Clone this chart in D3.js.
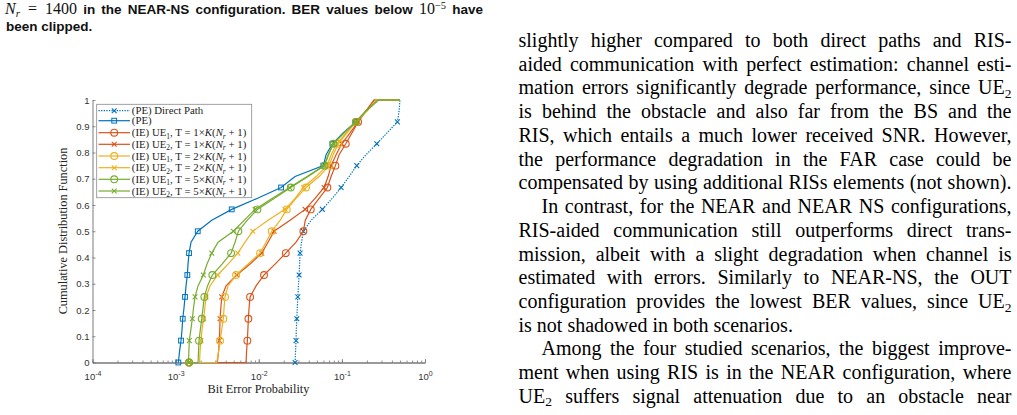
<!DOCTYPE html>
<html>
<head>
<meta charset="UTF-8">
<title>BER CDF</title>
<script src="https://d3js.org/d3.v7.min.js"></script>
<style>
  body { margin: 0; background: #fff; overflow: hidden; }
  svg { display: block; }
</style>
</head>
<body>
<script>
  // BER read at CDF = k/24, k = 0..24 (markers sit on every 2nd level)
  var berDirect = [0.02735, 0.0277, 0.0281, 0.0283, 0.0287, 0.0291, 0.0295, 0.0300, 0.0306, 0.0310, 0.0314, 0.0327, 0.0344,
                   0.0426, 0.0583, 0.0763, 0.0979, 0.1221, 0.1511, 0.1955, 0.2631, 0.350, 0.4656, 0.488, 0.5];
  var berPE = [1.078e-3, 1.114e-3, 1.161e-3, 1.194e-3, 1.217e-3, 1.262e-3, 1.297e-3, 1.334e-3, 1.383e-3, 1.41e-3, 1.45e-3, 1.532e-3, 1.845e-3,
               2.72e-3, 4.73e-3, 9.55e-3, 0.01855, 0.02735, 0.0599, 0.0646, 0.0769, 0.1034, 0.147, 0.1955, 0.2727];
  var berUe1T1 = [7.037e-3, 7.136e-3, 7.296e-3, 7.398e-3, 7.501e-3, 7.648e-3, 7.863e-3, 9.288e-3, 0.01158, 0.01571, 0.02113, 0.0281, 0.0344,
                  0.03628, 0.04225, 0.05318, 0.06696, 0.0742, 0.08358, 0.09262, 0.1114, 0.1327, 0.1567, 0.1955, 0.2441];
  var berUe2T1 = [3.177e-3, 3.284e-3, 3.357e-3, 3.394e-3, 3.423e-3, 3.50e-3, 3.588e-3, 4.041e-3, 5.438e-3, 7.863e-3, 0.01087, 0.01294, 0.01528,
                  0.02381, 0.03608, 0.0476, 0.0611, 0.0683, 0.0742, 0.0852, 0.0997, 0.1255, 0.1567, 0.1955, 0.2441];
  var berUe1T2 = [3.124e-3, 3.284e-3, 3.423e-3, 3.588e-3, 3.75e-3, 3.824e-3, 3.931e-3, 4.272e-3, 5.333e-3, 7.439e-3, 0.01037, 0.01224, 0.01434,
                  0.01805, 0.02173, 0.0281, 0.03709, 0.05318, 0.0702, 0.0784, 0.0909, 0.1155, 0.1482, 0.201, 0.258];
  var berUe2T2 = [1.939e-3, 1.966e-3, 2.021e-3, 2.078e-3, 2.167e-3, 2.246e-3, 2.322e-3, 2.594e-3, 3.212e-3, 4.272e-3, 5.591e-3, 6.845e-3, 8.475e-3,
                  0.01294, 0.02073, 0.02735, 0.0344, 0.04894, 0.0664, 0.0742, 0.0869, 0.1124, 0.1482, 0.201, 0.2653];
  var berUe1T5 = [1.86e-3, 1.886e-3, 1.912e-3, 1.983e-3, 2.061e-3, 2.137e-3, 2.215e-3, 2.42e-3, 2.765e-3, 3.618e-3, 4.643e-3, 5.187e-3, 5.684e-3,
                  7.236e-3, 9.63e-3, 0.01528, 0.02427, 0.0392, 0.0619, 0.0692, 0.0791, 0.1063, 0.147, 0.1955, 0.2727];
  var berUe2T5 = [1.43e-3, 1.442e-3, 1.462e-3, 1.524e-3, 1.589e-3, 1.642e-3, 1.712e-3, 1.86e-3, 2.155e-3, 2.387e-3, 2.72e-3, 3.24e-3, 4.95e-3,
                  6.66e-3, 9.03e-3, 0.01446, 0.02348, 0.03813, 0.0611, 0.0683, 0.0784, 0.1063, 0.147, 0.1955, 0.2727];

  // first / last sample shared by the IE curves
  var ieStart = 1.45e-3;
  var curveEnd = 0.5;

  var xTicks = [1e-4, 1e-3, 1e-2, 1e-1, 1];
  var yTicks = [0, 0.1, 0.2, 0.3, 0.4, 0.5, 0.6, 0.7, 0.8, 0.9, 1];

  var blue = "#0072BD", orange = "#D95319", yellow = "#EDB120", green = "#77AC30";

  var series = [
    { ber: berDirect, start: berDirect[0], color: blue, marker: "x", dotted: true, label: "direct" },
    { ber: berPE, start: berPE[0], color: blue, marker: "s", label: "pe" },
    { ber: berUe1T1, start: ieStart, color: orange, marker: "o", ue: 1, t: 1 },
    { ber: berUe2T1, start: ieStart, color: orange, marker: "x", ue: 2, t: 1 },
    { ber: berUe1T2, start: ieStart, color: yellow, marker: "o", ue: 1, t: 2 },
    { ber: berUe2T2, start: ieStart, color: yellow, marker: "x", ue: 2, t: 2 },
    { ber: berUe1T5, start: ieStart, color: green, marker: "o", ue: 1, t: 5 },
    { ber: berUe2T5, start: ieStart, color: green, marker: "x", ue: 2, t: 5 }
  ];

  var bodyLines = [
    ["slightly higher compared to both direct paths and RIS-", 0, true],
    ["aided communication with perfect estimation: channel esti-", 0, true],
    ["mation errors significantly degrade performance, since UE_2", 0, true],
    ["is behind the obstacle and also far from the BS and the", 0, true],
    ["RIS, which entails a much lower received SNR. However,", 0, true],
    ["the performance degradation in the FAR case could be", 0, true],
    ["compensated by using additional RISs elements (not shown).", 0, true],
    ["In contrast, for the NEAR and NEAR NS configurations,", 1, true],
    ["RIS-aided communication still outperforms direct trans-", 0, true],
    ["mission, albeit with a slight degradation when channel is", 0, true],
    ["estimated with errors. Similarly to NEAR-NS, the OUT", 0, true],
    ["configuration provides the lowest BER values, since UE_2", 0, true],
    ["is not shadowed in both scenarios.", 0, false],
    ["Among the four studied scenarios, the biggest improve-", 1, true],
    ["ment when using RIS is in the NEAR configuration, where", 0, true],
    ["UE_2 suffers signal attenuation due to an obstacle near", 0, true]
  ];

  var SANS = "'Liberation Sans', Arial, sans-serif";
  var SERIF = "'Liberation Serif', 'Times New Roman', serif";

  var svg = d3.select("body").append("svg").attr("width", 1017).attr("height", 415);

  // writes styled pieces into a text element; returns the number of spaces
  function writeSegs(text, segs) {
    var shift = 0, spaces = 0;
    segs.forEach(function (s) {
      var target = s.shift || 0;
      var ts = text.append("tspan").text(s.t).attr("dy", target - shift);
      if (s.size) ts.attr("font-size", s.size);
      if (s.family) ts.attr("font-family", s.family);
      if (s.italic) ts.attr("font-style", "italic");
      if (s.weight) ts.attr("font-weight", s.weight);
      shift = target;
      spaces += (s.t.match(/ /g) || []).length;
    });
    return spaces;
  }

  function justify(text, spaces, width) {
    var len = text.node().getComputedTextLength();
    if (spaces > 0) text.attr("word-spacing", (width - len) / spaces);
  }

  // ---- caption fragment at the top left
  var cap1 = svg.append("text").attr("x", 5).attr("y", 14)
    .attr("font-family", SANS).attr("font-weight", "bold").attr("font-size", 13.5).attr("fill", "#111");
  var capSpaces = writeSegs(cap1, [
    { t: "N", family: SERIF, italic: true, weight: "normal", size: 16 },
    { t: "r", family: SERIF, italic: true, weight: "normal", size: 11, shift: 2.5 },
    { t: "\u2002=\u20021400", family: SERIF, weight: "normal", size: 16 },
    { t: " in the NEAR-NS configuration. BER values below " },
    { t: "10", family: SERIF, weight: "normal", size: 16 },
    { t: "\u22125", family: SERIF, weight: "normal", size: 10.5, shift: -5 },
    { t: " have" }
  ]);
  justify(cap1, capSpaces, 478);
  svg.append("text").attr("x", 6).attr("y", 31)
    .attr("font-family", SANS).attr("font-weight", "bold").attr("font-size", 13.5).attr("fill", "#111")
    .text("been clipped.");

  // ---- body text on the right
  var bodyLeft = 518.5, bodyWidth = 493, indent = 23;
  bodyLines.forEach(function (line, i) {
    var x0 = bodyLeft + line[1] * indent;
    var t = svg.append("text").attr("x", x0).attr("y", 47 + i * 23.73)
      .attr("font-family", SERIF).attr("font-size", 20).attr("fill", "#000");
    var segs = [];
    line[0].split(/(_\d)/).forEach(function (part) {
      if (!part) return;
      if (part[0] === "_") segs.push({ t: part.slice(1), size: 13.5, shift: 3.5 });
      else segs.push({ t: part });
    });
    var n = writeSegs(t, segs);
    if (line[2]) justify(t, n, bodyWidth - line[1] * indent);
  });

  // ---- chart
  var x = d3.scaleLog().domain([1e-4, 1]).range([92.5, 425]);
  var y = d3.scaleLinear().domain([0, 1]).range([362.5, 100]);
  var axisColor = "#6e6e6e";

  var chart = svg.append("g");

  var xMinor = chart.append("g").attr("transform", "translate(0,362.5)")
    .call(d3.axisBottom(x).tickValues(x.ticks()).tickSize(-2).tickSizeOuter(0).tickFormat(""));
  var xAxis = chart.append("g").attr("transform", "translate(0,362.5)")
    .call(d3.axisBottom(x).tickValues(xTicks).tickSize(-3.5).tickSizeOuter(0).tickPadding(11).tickFormat(""));
  xAxis.selectAll(".tick text").each(function (d) {
    var t = d3.select(this).attr("font-size", 9.5).attr("fill", "#333");
    t.append("tspan").text("10");
    t.append("tspan").text(String(Math.round(Math.log10(d))))
      .attr("font-size", 7).attr("dy", -4);
  });
  xAxis.selectAll("text").attr("font-family", SANS);

  var yAxis = chart.append("g").attr("transform", "translate(92.5,0)")
    .call(d3.axisLeft(y).tickValues(yTicks).tickSize(-3).tickSizeOuter(0).tickPadding(3).tickFormat(d3.format(".1~f")));
  yAxis.selectAll("text").attr("font-family", SANS).attr("font-size", 9.5).attr("fill", "#333");

  [xMinor, xAxis, yAxis].forEach(function (g) {
    g.selectAll("line").attr("stroke", axisColor).attr("stroke-width", 0.8);
    g.selectAll(".domain").attr("stroke", axisColor).attr("stroke-width", 0.9);
  });

  chart.append("text").attr("x", 258.5).attr("y", 393)
    .attr("text-anchor", "middle").attr("font-family", SERIF).attr("font-size", 12.3).attr("fill", "#222")
    .text("Bit Error Probability");
  chart.append("text").attr("transform", "translate(66.5,231) rotate(-90)")
    .attr("text-anchor", "middle").attr("font-family", SERIF).attr("font-size", 12.3).attr("fill", "#222")
    .text("Cumulative Distribution Function");

  function drawMarker(g, type, cx, cy, color) {
    if (type === "s") {
      g.append("rect").attr("x", cx - 2.4).attr("y", cy - 2.4).attr("width", 4.8).attr("height", 4.8)
        .attr("fill", "none").attr("stroke", color).attr("stroke-width", 1);
    } else if (type === "o") {
      g.append("circle").attr("cx", cx).attr("cy", cy).attr("r", 3.4)
        .attr("fill", "none").attr("stroke", color).attr("stroke-width", 1.1);
    } else {
      var h = 2.4;
      g.append("path")
        .attr("d", "M" + (cx - h) + "," + (cy - h) + "L" + (cx + h) + "," + (cy + h) +
                   "M" + (cx - h) + "," + (cy + h) + "L" + (cx + h) + "," + (cy - h))
        .attr("stroke", color).attr("stroke-width", 1.1);
    }
  }

  var line = d3.line().x(function (d) { return x(d[0]); }).y(function (d) { return y(d[1]); });
  var steps = berDirect.length - 1;

  series.forEach(function (s) {
    var pts = [[s.start, 0]];
    s.ber.forEach(function (b, k) { pts.push([b, k / steps]); });
    pts.push([curveEnd, 1]);

    var g = chart.append("g");
    g.append("path").attr("d", line(pts)).attr("fill", "none")
      .attr("stroke", s.color).attr("stroke-width", 1.2)
      .attr("stroke-dasharray", s.dotted ? "1.3,1.3" : null);

    drawMarker(g, s.marker, x(s.start), y(0), s.color);
    s.ber.forEach(function (b, k) {
      if (k >= 2 && k <= steps - 2 && k % 2 === 0) drawMarker(g, s.marker, x(b), y(k / steps), s.color);
    });
  });

  // ---- legend
  var leg = chart.append("g");
  leg.append("rect").attr("x", 96.7).attr("y", 104.3).attr("width", 155).attr("height", 93.4)
    .attr("fill", "#fff").attr("stroke", "#8a8a8a").attr("stroke-width", 0.8);
  var rowY = [110.7, 120.7, 132.7, 144.3, 156, 167.7, 179.3, 191];

  series.forEach(function (s, i) {
    var ry = rowY[i];
    leg.append("line").attr("x1", 98.5).attr("x2", 130).attr("y1", ry).attr("y2", ry)
      .attr("stroke", s.color).attr("stroke-width", 1.2)
      .attr("stroke-dasharray", s.dotted ? "1.3,1.3" : null);
    drawMarker(leg, s.marker, 114.2, ry, s.color);

    var t = leg.append("text").attr("x", 131.8).attr("y", ry + 3.5)
      .attr("font-family", SERIF).attr("font-size", 10.8).attr("fill", "#222");
    if (s.label === "direct") t.text("(PE) Direct Path");
    else if (s.label === "pe") t.text("(PE)");
    else writeSegs(t, [
      { t: "(IE) UE" },
      { t: String(s.ue), size: 7.5, shift: 2.5 },
      { t: ", T\u2005=\u2005" + s.t + "\u00d7" },
      { t: "K", italic: true },
      { t: "(" },
      { t: "N", italic: true },
      { t: "r", italic: true, size: 7.5, shift: 2.5 },
      { t: "\u2005+\u20051)" }
    ]);
  });
</script>
</body>
</html>
